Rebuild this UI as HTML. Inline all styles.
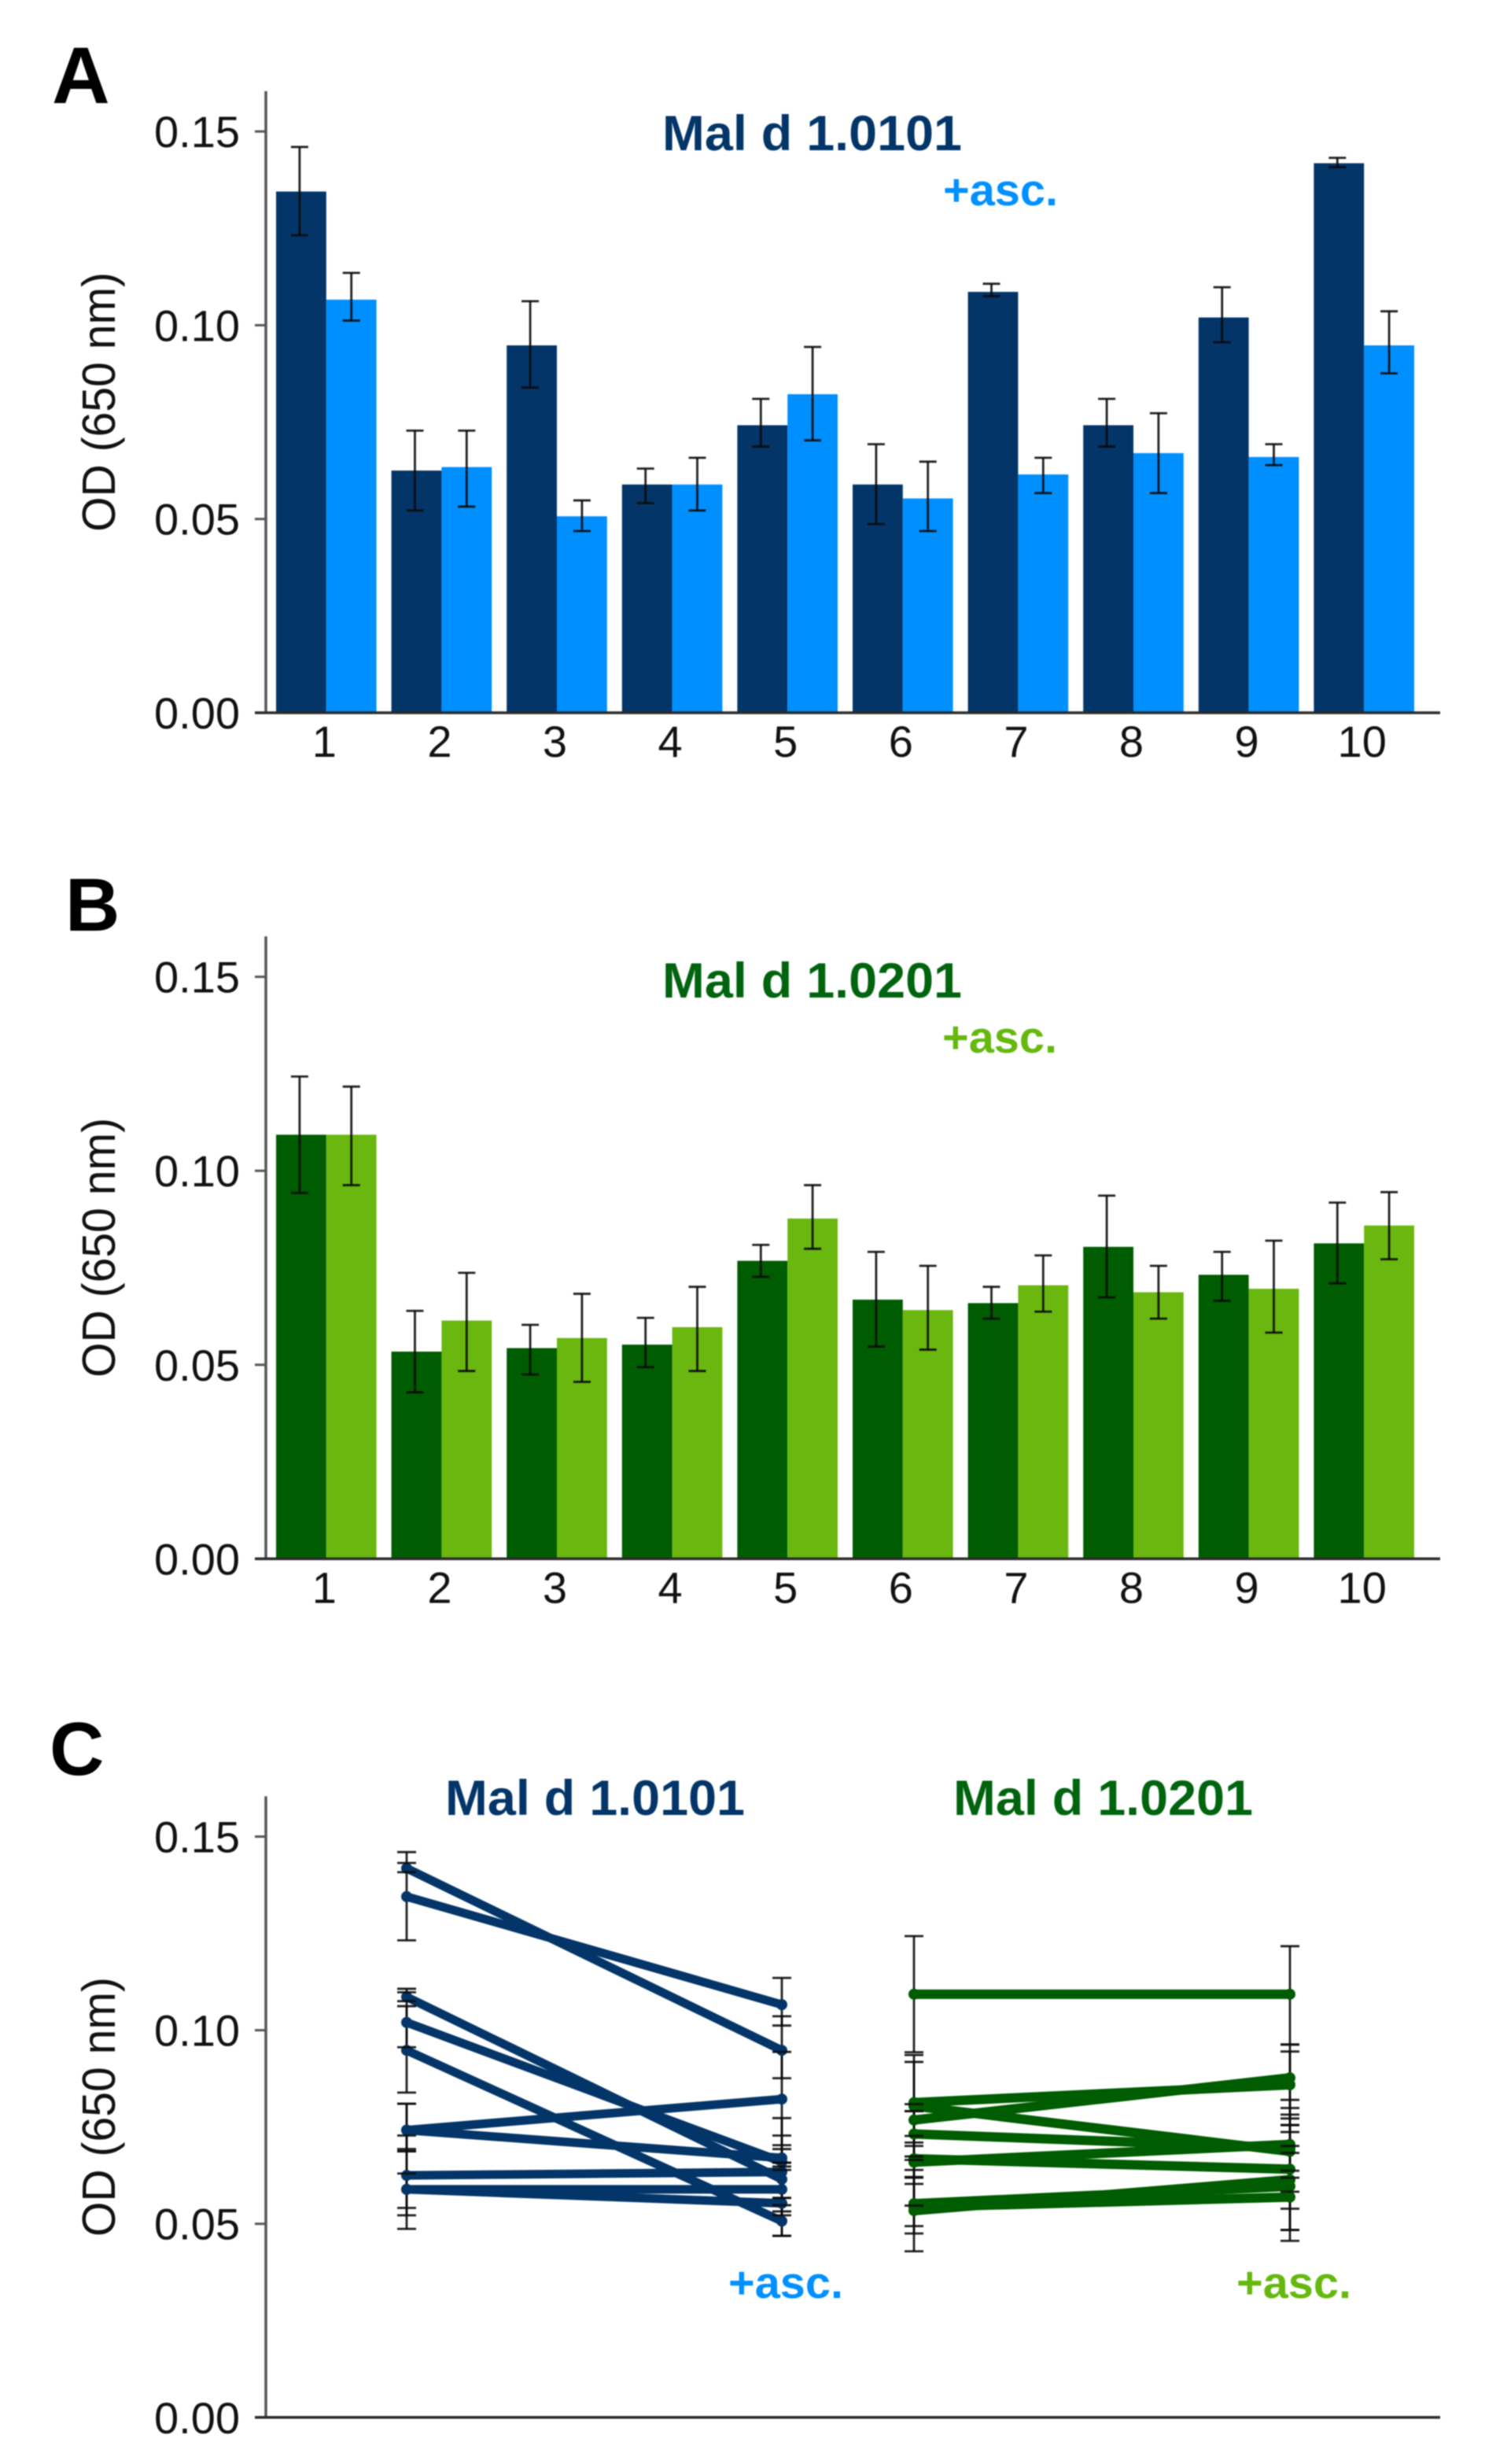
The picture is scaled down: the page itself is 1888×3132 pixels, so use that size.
<!DOCTYPE html>
<html lang="en">
<head>
<meta charset="utf-8">
<title>Mal d 1.0101 and Mal d 1.0201 OD at 650 nm</title>
<style>
  html, body { margin: 0; padding: 0; background: #fff; }
  svg { display: block; filter: blur(0.7px); }
  text { font-family: "Liberation Sans", sans-serif; }
</style>
</head>
<body>
<svg id="figure" xmlns="http://www.w3.org/2000/svg" width="1888" height="3132" viewBox="0 0 1888 3132">
  <rect x="0" y="0" width="1888" height="3132" fill="#ffffff"/>
  <g id="panel-a"></g>
  <g id="panel-b"></g>
  <g id="panel-c"></g>
  <g font-weight="700">
    <text x="66" y="131" font-size="102" fill="#000">A</text>
    <text x="83" y="1183" font-size="96" fill="#000">B</text>
    <text x="63" y="2256" font-size="96" fill="#000">C</text>
    <text x="842" y="191" font-size="63" fill="#033568" textLength="381" lengthAdjust="spacingAndGlyphs">Mal d 1.0101</text>
    <text x="1199" y="261" font-size="57" fill="#0090ff" textLength="146" lengthAdjust="spacingAndGlyphs">+asc.</text>
    <text x="842" y="1268" font-size="63" fill="#00640f" textLength="381" lengthAdjust="spacingAndGlyphs">Mal d 1.0201</text>
    <text x="1198" y="1338" font-size="57" fill="#66b80f" textLength="146" lengthAdjust="spacingAndGlyphs">+asc.</text>
    <text x="566" y="2307" font-size="63" fill="#033568" textLength="381" lengthAdjust="spacingAndGlyphs">Mal d 1.0101</text>
    <text x="1212" y="2307" font-size="63" fill="#00640f" textLength="381" lengthAdjust="spacingAndGlyphs">Mal d 1.0201</text>
    <text x="926" y="2921" font-size="57" fill="#0090ff" textLength="146" lengthAdjust="spacingAndGlyphs">+asc.</text>
    <text x="1572" y="2921" font-size="57" fill="#66b80f" textLength="146" lengthAdjust="spacingAndGlyphs">+asc.</text>
  </g>
</svg>
<script>
// ---- chart data ----
const categories = ['1', '2', '3', '4', '5', '6', '7', '8', '9', '10'];
const yTickValues = [0, 0.05, 0.10, 0.15];
const yTickLabels = ['0.00', '0.05', '0.10', '0.15'];
const yAxisTitle = 'OD (650 nm)';

const mal101Control      = [0.1345, 0.0625, 0.0948, 0.0589, 0.0742, 0.0589, 0.1086, 0.0742, 0.1020, 0.1418];
const mal101ControlUpper = [0.1460, 0.0728, 0.1062, 0.0630, 0.0810, 0.0693, 0.1107, 0.0810, 0.1098, 0.1432];
const mal101ControlLower = [0.1232, 0.0522, 0.0839, 0.0541, 0.0687, 0.0487, 0.1075, 0.0687, 0.0956, 0.1408];
const mal101Asc          = [0.1066, 0.0634, 0.0507, 0.0589, 0.0822, 0.0553, 0.0615, 0.0670, 0.0660, 0.0948];
const mal101AscUpper     = [0.1135, 0.0728, 0.0548, 0.0658, 0.0944, 0.0648, 0.0658, 0.0773, 0.0693, 0.1036];
const mal101AscLower     = [0.1012, 0.0532, 0.0469, 0.0522, 0.0703, 0.0469, 0.0567, 0.0567, 0.0639, 0.0876];

const mal201Control      = [0.1093, 0.0534, 0.0543, 0.0552, 0.0768, 0.0668, 0.0659, 0.0804, 0.0732, 0.0813];
const mal201ControlUpper = [0.1243, 0.0639, 0.0603, 0.0621, 0.0809, 0.0791, 0.0701, 0.0936, 0.0791, 0.0918];
const mal201ControlLower = [0.0943, 0.0429, 0.0475, 0.0494, 0.0727, 0.0547, 0.0619, 0.0674, 0.0665, 0.0710];
const mal201Asc          = [0.1093, 0.0614, 0.0569, 0.0597, 0.0877, 0.0641, 0.0705, 0.0687, 0.0696, 0.0859];
const mal201AscUpper     = [0.1217, 0.0737, 0.0683, 0.0701, 0.0963, 0.0755, 0.0782, 0.0755, 0.0820, 0.0945];
const mal201AscLower     = [0.0963, 0.0484, 0.0456, 0.0484, 0.0799, 0.0539, 0.0637, 0.0619, 0.0583, 0.0772];

// ---- drawing ----
const SVG_NS = 'http://www.w3.org/2000/svg';
const PANEL_A = { baseline: 906, perUnit: 4926 };
const PANEL_B = { baseline: 1981.4, perUnit: 4932 };
const PANEL_C = { baseline: 3072.8, perUnit: 4922 };
const AXIS_X = 338;
const AXIS_END = 1831;
const TOP_VALUE = 0.1604;
const BAND_START = 351;
const BAND_STEP = 146.6;
const BAR_WIDTH = 63.8;
const COLORS = {
  navy: '#033568', sky: '#008fff', forest: '#005c00', lime: '#69b70f',
  stem: '#0a0a0a', axisY: '#555555', axisX: '#2b2b2b', label: '#111111'
};

function yScale(panel, value) { return panel.baseline - value * panel.perUnit; }
function xBand(index) { return BAND_START + index * BAND_STEP; }

function make(tag, attrs, parent) {
  const el = document.createElementNS(SVG_NS, tag);
  for (const key in attrs) el.setAttribute(key, attrs[key]);
  parent.appendChild(el);
  return el;
}

function drawAxes(panel, parent, showCategories) {
  const yAxis = make('line', { x1: AXIS_X, x2: AXIS_X, y1: yScale(panel, TOP_VALUE), y2: panel.baseline, stroke: COLORS.axisY, 'stroke-width': 3.5 }, parent);
  
  

  const xAxis = make('line', { x1: 324, x2: AXIS_END, y1: panel.baseline, y2: panel.baseline, stroke: COLORS.axisX, 'stroke-width': 3.5 }, parent);
  
  

  yTickValues.forEach(function (value, i) {
    const y = yScale(panel, value);
    if (value > 0) {
      const tick = make('line', { x1: 324, x2: AXIS_X, y1: y, y2: y, stroke: COLORS.axisY, 'stroke-width': 3 }, parent);
      
      
    }
    const label = make('text', { x: 305, y: y + 20, 'font-size': 56, 'text-anchor': 'end', fill: COLORS.label }, parent);
    label.textContent = yTickLabels[i];
    
    
  });

  const midY = yScale(panel, 0.0802);
  const title = make('text', {
    transform: 'translate(146 ' + midY + ') rotate(-90)', 'font-size': 59, 'text-anchor': 'middle',
    fill: COLORS.label, textLength: 330, lengthAdjust: 'spacingAndGlyphs'
  }, parent);
  title.textContent = yAxisTitle;
  
  

  if (showCategories) {
    categories.forEach(function (category, i) {
      const label = make('text', { x: xBand(i) + BAR_WIDTH - 2.5, y: panel.baseline + 56, 'font-size': 56, 'text-anchor': 'middle', fill: COLORS.label }, parent);
      label.textContent = category;
      
      
    });
  }
}

function drawErrorBar(parent, x, panel, upper, lower, capHalf, part) {
  const yUp = yScale(panel, upper);
  const yLo = yScale(panel, lower);
  if (part !== 'caps') {
    const stem = make('line', { x1: x, x2: x, y1: yUp, y2: yLo, stroke: COLORS.stem, 'stroke-width': 2.8, 'stroke-opacity': 0.9 }, parent);
    
    
  }
  if (part !== 'stem') {
    [yUp, yLo].forEach(function (y) {
      const cap = make('line', { x1: x - capHalf, x2: x + capHalf, y1: y, y2: y, stroke: COLORS.stem, 'stroke-width': 2.8, 'stroke-opacity': 0.9 }, parent);
      
      
    });
  }
}

function drawBars(panel, parent, control, controlUpper, controlLower, asc, ascUpper, ascLower, darkColor, lightColor) {
  categories.forEach(function (category, i) {
    const x = xBand(i);
    const darkTop = yScale(panel, control[i]);
    const lightTop = yScale(panel, asc[i]);
    const darkBar = make('rect', { x: x, y: darkTop, width: BAR_WIDTH, height: panel.baseline - darkTop, fill: darkColor }, parent);
    
    
    const lightBar = make('rect', { x: x + BAR_WIDTH, y: lightTop, width: BAR_WIDTH, height: panel.baseline - lightTop, fill: lightColor }, parent);
    
    
  });
  categories.forEach(function (category, i) {
    const x = xBand(i);
    drawErrorBar(parent, x + BAR_WIDTH / 2 - 2, panel, controlUpper[i], controlLower[i], 11, 'all');
    drawErrorBar(parent, x + BAR_WIDTH * 1.5, panel, ascUpper[i], ascLower[i], 11, 'all');
  });
}

function drawPaired(panel, parent, xLeft, xRight, left, leftUpper, leftLower, right, rightUpper, rightLower, color, lineWidth) {
  categories.forEach(function (category, i) {
    drawErrorBar(parent, xLeft, panel, leftUpper[i], leftLower[i], 12, 'stem');
    drawErrorBar(parent, xRight, panel, rightUpper[i], rightLower[i], 12, 'stem');
  });
  categories.forEach(function (category, i) {
    const line = make('line', {
      x1: xLeft, x2: xRight, y1: yScale(panel, left[i]), y2: yScale(panel, right[i]),
      stroke: color, 'stroke-width': lineWidth, 'stroke-linecap': 'round'
    }, parent);
    
    

    const leftDot = make('circle', { cx: xLeft, cy: yScale(panel, left[i]), r: 7, fill: color }, parent);
    
    

    const rightDot = make('circle', { cx: xRight, cy: yScale(panel, right[i]), r: 7, fill: color }, parent);
    
    
  });
  categories.forEach(function (category, i) {
    drawErrorBar(parent, xLeft, panel, leftUpper[i], leftLower[i], 12, 'caps');
    drawErrorBar(parent, xRight, panel, rightUpper[i], rightLower[i], 12, 'caps');
  });
}

const groupA = document.getElementById('panel-a');
const groupB = document.getElementById('panel-b');
const groupC = document.getElementById('panel-c');

drawBars(PANEL_A, groupA, mal101Control, mal101ControlUpper, mal101ControlLower, mal101Asc, mal101AscUpper, mal101AscLower, COLORS.navy, COLORS.sky);
drawAxes(PANEL_A, groupA, true);

drawBars(PANEL_B, groupB, mal201Control, mal201ControlUpper, mal201ControlLower, mal201Asc, mal201AscUpper, mal201AscLower, COLORS.forest, COLORS.lime);
drawAxes(PANEL_B, groupB, true);

drawPaired(PANEL_C, groupC, 517, 994, mal101Control, mal101ControlUpper, mal101ControlLower, mal101Asc, mal101AscUpper, mal101AscLower, COLORS.navy, 11);
drawPaired(PANEL_C, groupC, 1162, 1640, mal201Control, mal201ControlUpper, mal201ControlLower, mal201Asc, mal201AscUpper, mal201AscLower, COLORS.forest, 12);
drawAxes(PANEL_C, groupC, false);
</script>
</body>
</html>
